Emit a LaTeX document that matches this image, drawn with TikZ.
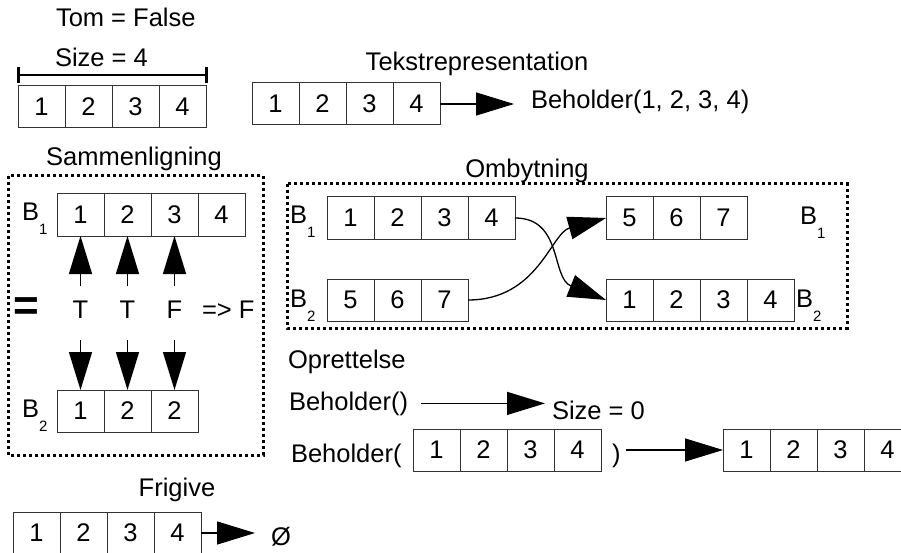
\documentclass[tikz,border=0pt]{standalone}
\usepackage{fontspec}
\setmainfont{Liberation Sans}
\usetikzlibrary{arrows.meta}
% B with a low-set index
\newcommand\Bsub[1]{B\raisebox{-14pt}{\fontsize{15}{15}\selectfont #1}}
% a row of value cells named <name>-1, <name>-2, ...
\newcommand\cellrow[4]{\foreach \v [count=\i] in {#4} {\node[cell] (#1-\i) at ({#2+47*(\i-1)},#3) {\v};}}
\begin{document}
\begin{tikzpicture}[x=1pt,y=-1pt,
  every node/.style={font=\fontsize{25.5}{30}\selectfont, inner sep=0pt, outer sep=0pt},
  cell/.style={draw=black!80, line width=1pt, minimum width=47pt, minimum height=42pt, anchor=north west},
  lbl/.style={anchor=base west},
  ttl/.style={anchor=base},
  arr/.style={line width=1.3pt, -{Triangle[length=38pt,width=23pt]}},
  frame/.style={line width=3pt, dash pattern=on 3pt off 3pt},
]
\useasboundingbox (0,0) rectangle (901,553);

% --- empty flag and size
\node[lbl] (tom) at (56,27) {Tom = False};
\node[lbl] (size4) at (55,67) {Size = 4};
\cellrow{tl}{18}{86}{1,2,3,4}
\coordinate (brl) at (18.5,75);
\coordinate (brr) at (206.5,75);
\draw[line width=2.5pt] (brl) -- (brr);
\draw[line width=3pt] (brl) +(0,-8) -- +(0,8);
\draw[line width=3pt] (brr) +(0,-8) -- +(0,8);

% --- text representation
\node[ttl] (tekst) at (477,71) {Tekstrepresentation};
\cellrow{tr}{252}{83}{1,2,3,4}
\node[lbl] (beh) at (531,109) {Beholder(1, 2, 3, 4)};
\draw[arr, shorten >=17pt] (tr-4.east) -- (tr-4.east -| beh.west);

% --- comparison
\node[ttl] (samm) at (134,166) {Sammenligning};
\draw[frame] (8,176) rectangle (263,455);
\node[lbl] (sb1lab) at (22,221) {\Bsub{1}};
\cellrow{sb1}{57}{194}{1,2,3,4}
\node[lbl] (sb2lab) at (22,417) {\Bsub{2}};
\cellrow{sb2}{57}{390}{1,2,2}
\node[font=\fontsize{44}{44}\selectfont\bfseries] (eq) at (26,309) {=};
\node[ttl] (c1) at (80.5,318) {T};
\node[ttl] (c2) at (127.5,318) {T};
\node[ttl] (c3) at (174.5,318) {F};
\node[lbl] (res) at (202,318) {=> F};
\foreach \k in {1,2,3} {
  \draw[arr, shorten <=14pt] (c\k.north) -- (sb1-\k.south);
  \draw[arr, shorten <=22pt] (c\k.south) -- (sb2-\k.north);
}

% --- swap
\node[ttl] (omb) at (527,178) {Ombytning};
\draw[frame] (287,184) rectangle (847,328);
\node[lbl] (ob1lab) at (290,223) {\Bsub{1}};
\cellrow{ob1}{327}{197}{1,2,3,4}
\node[lbl] (ob2lab) at (290,307) {\Bsub{2}};
\cellrow{ob2}{327}{279}{5,6,7}
\cellrow{or1}{606}{197}{5,6,7}
\cellrow{or2}{606}{279}{1,2,3,4}
\node[lbl] (or1lab) at (800,225) {\Bsub{1}};
\node[lbl] (or2lab) at (796,307) {\Bsub{2}};
\draw[arr] (ob1-4.east) .. controls +(48,0) and +(-55,-22) .. (or2-1.west);
\draw[arr] (ob2-3.east) .. controls +(70,0) and +(-55,15) .. (or1-1.west);

% --- creation
\node[lbl] (opr) at (288,368) {Oprettelse};
\node[lbl] (bh0) at (289,410) {Beholder()};
\node[lbl] (sz0) at (552,419) {Size = 0};
\draw[arr, shorten <=13pt, shorten >=7pt] (bh0.east) -- (bh0.east -| sz0.west);
\node[lbl] (bh1) at (291,462) {Beholder(};
\cellrow{op1}{413}{429}{1,2,3,4}
\node[lbl] (rp) at (612,462) {)};
\cellrow{op2}{723}{429}{1,2,3,4}
\draw[arr, shorten <=5pt] (op2-1.west -| rp.east) -- (op2-1.west);

% --- release
\node[ttl] (frig) at (177,496) {Frigive};
\cellrow{fr}{13}{512}{1,2,3,4}
\node[lbl] (phi) at (271,545) {Ø};
\draw[arr, shorten >=16pt] (fr-4.east) -- (fr-4.east -| phi.west);
\end{tikzpicture}
\end{document}
